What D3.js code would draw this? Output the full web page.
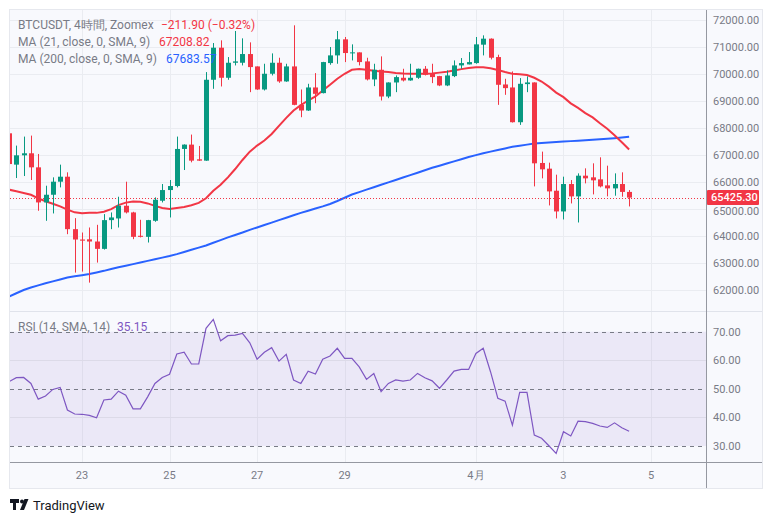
<!DOCTYPE html>
<html><head><meta charset="utf-8">
<script src="https://cdn.jsdelivr.net/npm/d3@7"></script>
<style>
body{margin:0;background:#fff;}
svg{display:block;font-family:Roboto,"Noto Sans",sans-serif;}
</style>
</head><body>
<svg id="c" width="772" height="523"></svg>
<script>
// ---- data (4h candles, first candle index -10 = 21日 08:00) ----
const firstIndex = -10;
const opens = [67810,66648,66994,67069,66548,65247,65532,66016,66201,64256,
  63872,63880,63798,63525,64591,64653,65124,64876,64010,63971,
  64566,65310,65706,65855,67230,67391,66846,66796,69795,70984,
  69869,70426,70426,70749,70290,69435,70018,70426,69733,70290,
  68865,68655,69510,69300,70414,70699,71294,70786,70811,70476,
  69807,70166,69175,69695,69869,69770,69869,70203,70018,69931,
  69584,69931,70327,70365,70414,71096,71319,70637,69621,69510,
  68221,69634,69696,66710,66499,65681,64913,65929,65471,66239,
  66177,66103,65879,65768,65929,65637.2];
const highs = [67900,67354,67688,67725,67044,65867,66177,66648,66363,64665,
  64132,64318,64417,64814,64876,65458,66016,64900,64603,64600,
  65433,65929,66078,67688,67400,67763,67341,70080,71157,71257,
  70637,71604,71331,71182,70290,70389,70773,70612,70389,71814,
  69435,69646,70042,70460,71009,71604,71381,71108,70811,70612,
  70389,70662,69700,69956,70203,70389,70210,70303,70389,69940,
  70142,70513,70600,70823,71381,71442,71330,70724,69832,70104,
  69857,69919,69700,67131,66722,66276,66202,66077,66325,66511,
  66697,66920,66610,66325,66363,65706];
const lows = [66550,66152,66226,66078,64938,64566,64839,65805,64070,62646,
  62683,62274,63017,63500,64256,64318,64839,63885,63950,63761,
  64530,65247,64690,65805,66449,66734,66790,66790,69460,69547,
  69795,70327,70327,69336,69420,69398,69956,69683,69720,68850,
  68407,68640,68927,69290,70352,70389,70451,70513,70327,69770,
  69559,69026,69113,69336,69733,69760,69830,69956,69671,69559,
  69559,69894,70203,70365,70389,70699,70550,68865,69237,68210,
  68122,69336,65842,66140,65136,64653,64616,65210,64504,65954,
  65545,65805,65471,65496,65458,65099];
const closes = [66670,66994,67069,66548,65247,65532,66016,66201,64256,63872,
  63830,63798,63525,64591,64690,65124,64876,63971,63971,64591,
  65347,65706,65855,67230,67391,66796,66796,69795,70984,69869,
  70426,70476,70749,70265,69435,70018,70426,69733,70290,68865,
  68655,69510,69274,70451,70699,71294,70786,70811,70451,69807,
  70166,69175,69695,69894,69770,69869,70203,69980,69894,69584,
  69956,70327,70414,70451,71108,71319,70612,69609,69485,68221,
  69646,69696,66697,66474,65656,64913,65929,65471,66239,66140,
  66066,65842,65768,65929,65637.2,65425.3];
const ma21 = [65720,65660,65600,65530,65400,65290,65200,65100,64980,64880,
  64850,64860,64860,64900,65000,65150,65240,65280,65270,65210,
  65120,65040,65000,65040,65080,65140,65230,65400,65680,65900,
  66177,66486,66821,67130,67354,67540,67787,68085,68382,68655,
  68853,69026,69175,69398,69609,69832,70018,70166,70190,70166,
  70130,70100,70080,70050,70030,70020,70020,70020,70030,70060,
  70090,70140,70190,70230,70260,70260,70220,70160,70080,70020,
  70000,69970,69870,69730,69540,69320,69150,68920,68750,68560,
  68400,68180,67980,67740,67480,67208.82];
const ma200 = [61760,61880,62000,62090,62170,62250,62320,62390,62460,62510,
  62550,62590,62650,62710,62780,62840,62900,62960,63020,63080,
  63140,63200,63260,63330,63410,63490,63570,63650,63750,63850,
  63950,64040,64130,64230,64320,64410,64500,64590,64680,64770,
  64860,64940,65020,65100,65190,65300,65420,65540,65630,65720,
  65810,65900,65990,66080,66170,66260,66350,66440,66530,66610,
  66690,66770,66850,66930,67000,67070,67130,67190,67250,67310,
  67350,67390,67430,67450,67470,67490,67505,67520,67535,67550,
  67570,67590,67610,67630,67655,67683.57];
const rsi = [52.5,53.9,54.0,51.9,46.4,47.5,49.8,50.5,42.6,41.2,
  41.1,40.7,39.9,46.1,46.4,49.2,47.8,43.0,43.0,47.2,
  51.9,54.0,55.1,62.2,62.8,58.7,58.7,71.2,74.3,66.8,
  68.6,68.8,69.4,66.1,60.4,62.8,64.4,59.7,62.1,53.1,
  51.9,56.2,55.2,60.4,61.5,64.2,60.7,60.7,57.7,53.3,
  55.4,49.0,51.9,53.1,52.7,53.1,55.4,53.9,52.8,50.2,
  53.1,56.2,56.8,56.8,62.4,64.2,56.0,46.7,45.7,37.3,
  48.8,48.8,33.8,32.7,30.1,27.4,35.0,33.5,38.7,38.5,
  37.9,37.0,36.5,38.1,36.4,35.15];
const dayTickIndex = [0,12,24,36,54,66,78];
const dayTickLabels = ["23","25","27","29","4月","3","5"];
const priceTicks = [62000,63000,64000,65000,66000,67000,68000,69000,70000,71000,72000];
const rsiTicks = [30,40,50,60,70];
const rsiDashed = [30,50,70];
const lastPrice = 65425.30;
const change = "−211.90 (−0.32%)";

// ---- layout ----
const L = 10, R = 706, AX = 762, T = 10, B = 488;
const priceTop = 10, priceBot = 311.5, rsiTop = 311.5, rsiBot = 462;
const GREEN = "#089981", RED = "#f23645", BLUE = "#2962ff", PURPLE = "#7e57c2";
const GRID = "#eaecf1", TXT = "#787b86";

const svg = d3.select("#c");
const idx = d3.range(opens.length).map(i => i + firstIndex);
const x = d3.scaleLinear().domain([0, 78]).range([82, 651]);
const y = d3.scaleLinear().domain([62000, 72000]).range([290, 20.3]);
const ry = d3.scaleLinear().domain([30, 70]).range([446, 331.7]);

// frame
svg.append("rect").attr("x", L - 0.5).attr("y", T - 0.5).attr("width", AX - L + 1).attr("height", B - T + 1)
  .attr("fill", "#f8f9fd").attr("stroke", "#e6e8ee");

const defs = svg.append("defs");
defs.append("clipPath").attr("id", "cp").append("rect").attr("x", L).attr("y", priceTop).attr("width", R - L).attr("height", priceBot - priceTop);
defs.append("clipPath").attr("id", "cr").append("rect").attr("x", L).attr("y", rsiTop).attr("width", R - L).attr("height", rsiBot - rsiTop);

// vertical grid
svg.append("g").selectAll("line").data(dayTickIndex).join("line")
  .attr("x1", d => Math.round(x(d)) + 0.5).attr("x2", d => Math.round(x(d)) + 0.5)
  .attr("y1", T).attr("y2", rsiBot).attr("stroke", GRID);
// price grid
svg.append("g").selectAll("line").data(priceTicks).join("line")
  .attr("x1", L).attr("x2", R).attr("y1", d => Math.round(y(d)) + 0.5).attr("y2", d => Math.round(y(d)) + 0.5)
  .attr("stroke", GRID);

// RSI band and grid
svg.append("rect").attr("x", L).attr("width", R - L).attr("y", ry(70)).attr("height", ry(30) - ry(70))
  .attr("fill", PURPLE).attr("fill-opacity", 0.1);
svg.append("g").selectAll("line").data(rsiTicks.filter(d => !rsiDashed.includes(d))).join("line")
  .attr("x1", L).attr("x2", R).attr("y1", d => Math.round(ry(d)) + 0.5).attr("y2", d => Math.round(ry(d)) + 0.5)
  .attr("stroke", "#dcdae8");
svg.append("g").selectAll("line").data(rsiDashed).join("line")
  .attr("x1", L).attr("x2", R).attr("y1", d => Math.round(ry(d)) + 0.5).attr("y2", d => Math.round(ry(d)) + 0.5)
  .attr("stroke", "#787b86").attr("stroke-dasharray", "4,4");

// pane separator + axes lines
svg.append("line").attr("x1", L).attr("x2", AX).attr("y1", 311.5).attr("y2", 311.5).attr("stroke", "#e0e3eb");
svg.append("line").attr("x1", L).attr("x2", AX).attr("y1", 462.5).attr("y2", 462.5).attr("stroke", "#9598a1");
svg.append("line").attr("x1", R + 0.5).attr("x2", R + 0.5).attr("y1", T).attr("y2", B).attr("stroke", "#9598a1");

// price pane content
const pg = svg.append("g").attr("clip-path", "url(#cp)");
const lineMA = arr => d3.line().x((d, i) => x(idx[i])).y(d => y(d))(arr);
pg.append("path").attr("d", lineMA(ma200)).attr("fill", "none").attr("stroke", BLUE).attr("stroke-width", 2);
pg.append("path").attr("d", lineMA(ma21)).attr("fill", "none").attr("stroke", RED).attr("stroke-width", 2);
pg.append("line").attr("x1", L).attr("x2", R).attr("y1", Math.round(y(lastPrice)) + 0.5).attr("y2", Math.round(y(lastPrice)) + 0.5)
  .attr("stroke", RED).attr("stroke-dasharray", "1,2");
const cg = pg.append("g");
const bw = 5;
idx.forEach((k, i) => {
  const o = opens[i], c = closes[i], h = highs[i], l = lows[i];
  const col = c >= o ? GREEN : RED;
  const cx = Math.round(x(k));
  cg.append("rect").attr("x", cx).attr("width", 1).attr("y", y(h)).attr("height", Math.max(1, y(l) - y(h))).attr("fill", col);
  const top = y(Math.max(o, c)), bot = y(Math.min(o, c));
  cg.append("rect").attr("x", cx - 2).attr("width", bw).attr("y", top).attr("height", Math.max(1, bot - top)).attr("fill", col);
});

// RSI line
const rg = svg.append("g").attr("clip-path", "url(#cr)");
rg.append("path").attr("d", d3.line().x((d, i) => x(idx[i])).y(d => ry(d))(rsi))
  .attr("fill", "none").attr("stroke", PURPLE).attr("stroke-width", 1.2);

// price axis labels (the one hidden under the last-price tag is nudged just below it)
const tagY = y(lastPrice);
svg.append("g").selectAll("text").data(priceTicks).join("text")
  .attr("x", 713).attr("y", d => Math.abs(y(d) - tagY) < 14 ? tagY + 14 : y(d)).attr("dy", "0.35em")
  .attr("font-size", 11).attr("fill", TXT).text(d => d3.format(".2f")(d));
svg.append("g").selectAll("text").data(rsiTicks).join("text")
  .attr("x", 713).attr("y", d => ry(d)).attr("dy", "0.35em")
  .attr("font-size", 11).attr("fill", TXT).text(d => d3.format(".2f")(d));
svg.append("rect").attr("x", R + 1).attr("y", tagY - 7.5).attr("width", 52).attr("height", 15).attr("fill", RED).attr("rx", 1);
svg.append("text").attr("x", 711).attr("y", tagY).attr("dy", "0.35em").attr("font-size", 11)
  .attr("fill", "#fff").attr("font-weight", 500).text(d3.format(".2f")(lastPrice));

// time axis labels
svg.append("g").selectAll("text").data(dayTickIndex).join("text")
  .attr("x", d => x(d)).attr("y", 475).attr("dy", "0.35em").attr("text-anchor", "middle")
  .attr("font-size", 11).attr("fill", TXT).text((d, i) => dayTickLabels[i]);

// legend
const leg = svg.append("g").attr("font-size", 12);
const legRow = (yy, label, val, col, vx) => {
  leg.append("text").attr("x", 18).attr("y", yy).attr("dy", "0.35em").attr("fill", TXT).text(label);
  leg.append("text").attr("x", vx).attr("y", yy).attr("dy", "0.35em").attr("fill", col).text(val);
};
legRow(25, "BTCUSDT, 4時間, Zoomex", change, RED, 161);
legRow(42, "MA (21, close, 0, SMA, 9)", d3.format(".2f")(ma21[ma21.length - 1]), RED, 159);
legRow(59, "MA (200, close, 0, SMA, 9)", d3.format(".2f")(ma200[ma200.length - 1]), BLUE, 166);
legRow(327, "RSI (14, SMA, 14)", d3.format(".2f")(rsi[rsi.length - 1]), PURPLE, 117);

// TradingView logo
const lg = svg.append("g").attr("fill", "#131722");
lg.append("path").attr("d", "M10 499h9v4h-3v7h-3v-7h-3z");
lg.append("circle").attr("cx", 22).attr("cy", 501.5).attr("r", 2);
lg.append("path").attr("d", "M24.5 499h4l-4.5 11h-4z");
svg.append("text").attr("x", 33).attr("y", 505).attr("dy", "0.35em").attr("font-size", 13)
  .attr("fill", "#131722").text("TradingView");
</script>
</body></html>
